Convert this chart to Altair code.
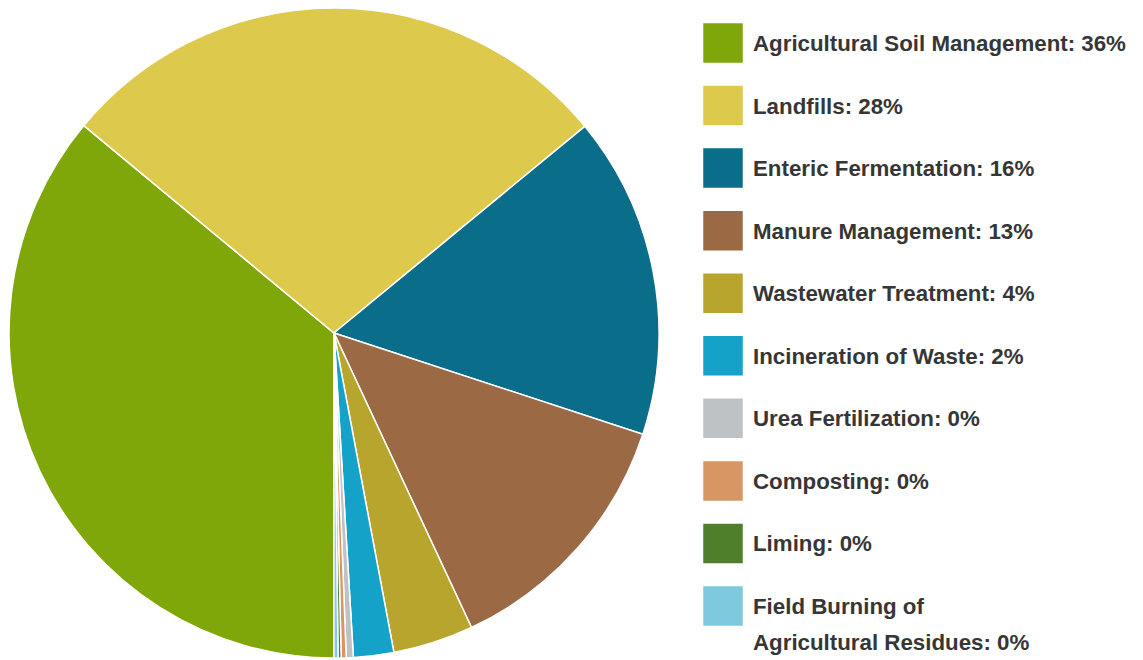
import math
import altair as alt
import pandas as pd

categories = [
    "Agricultural Soil Management",
    "Landfills",
    "Enteric Fermentation",
    "Manure Management",
    "Wastewater Treatment",
    "Incineration of Waste",
    "Urea Fertilization",
    "Composting",
    "Liming",
    "Field Burning of Agricultural Residues",
]
values = [36.0, 28.0, 16.0, 13.0, 4.0, 2.0, 0.35, 0.25, 0.15, 0.2]
labels_line1 = [
    "Agricultural Soil Management: 36%",
    "Landfills: 28%",
    "Enteric Fermentation: 16%",
    "Manure Management: 13%",
    "Wastewater Treatment: 4%",
    "Incineration of Waste: 2%",
    "Urea Fertilization: 0%",
    "Composting: 0%",
    "Liming: 0%",
    "Field Burning of",
]
labels_line2 = ["", "", "", "", "", "", "", "", "", "Agricultural Residues: 0%"]
colors = [
    "#80a70a", "#ddc94c", "#0a6d8a", "#9b6a45", "#b8a52e",
    "#14a2c8", "#bfc2c5", "#d99665", "#4f7f2a", "#7fc9df",
]

df = pd.DataFrame({
    "category": categories,
    "value": values,
    "idx": list(range(len(categories))),
    "line1": labels_line1,
    "line2": labels_line2,
})

FONT = "Liberation Sans, Arial, sans-serif"
color_scale = alt.Scale(domain=categories, range=colors)

base = alt.Chart(df)

pie = base.mark_arc(stroke="white", strokeWidth=1.5).encode(
    theta=alt.Theta("value:Q", stack=True,
                    scale=alt.Scale(range=[math.pi, 3 * math.pi])),
    color=alt.Color("category:N", scale=color_scale, legend=None),
    order=alt.Order("idx:Q", sort="ascending"),
    x=alt.value(326),
    y=alt.value(325),
    radius=alt.value(325),
)

yenc = alt.Y("idx:Q", scale=alt.Scale(domain=[0, 9], range=[35, 598]), axis=None)

squares = base.mark_square(size=1560, opacity=1).encode(
    x=alt.value(715),
    y=yenc,
    color=alt.Color("category:N", scale=color_scale, legend=None),
)

text1 = base.mark_text(
    align="left", baseline="middle", font=FONT, fontSize=22.3,
    fontWeight="bold", color="#363636", dy=1,
).encode(
    x=alt.value(745),
    y=yenc,
    text="line1:N",
)

text2 = base.mark_text(
    align="left", baseline="middle", font=FONT, fontSize=22.3,
    fontWeight="bold", color="#363636", dy=37,
).encode(
    x=alt.value(745),
    y=yenc,
    text="line2:N",
)

chart = alt.layer(pie, squares, text1, text2).properties(
    width=1127, height=652, padding=0,
    autosize=alt.AutoSizeParams(type="none"),
).configure_view(stroke=None)

chart.save("out.html", embed_options={"renderer": "svg", "actions": False})
